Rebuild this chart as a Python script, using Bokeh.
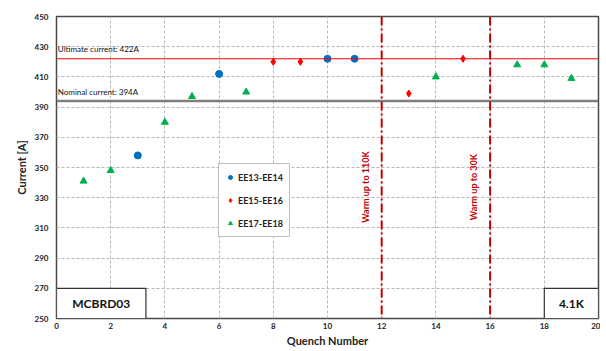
from bokeh.plotting import figure
from bokeh.models import Span, Label, Legend, LegendItem, FixedTicker
from bokeh.embed import file_html
from bokeh.resources import INLINE
from bokeh.core.properties import value
import math

# Data
ee13_x = [3, 6, 10, 11]
ee13_y = [358, 412, 422, 422]
ee15_x = [8, 9, 13, 15]
ee15_y = [420, 420, 399, 422]
ee17_x = [1, 2, 4, 5, 7, 14, 17, 18, 19]
ee17_y = [341, 348, 380, 397, 400, 410, 418, 418, 409]
ultimate = 422
nominal = 394
warmups = [12, 16]
warm_labels = ["Warm up to 110K", "Warm up to 30K"]
x_ticks = list(range(0, 21, 2))
y_ticks = list(range(250, 451, 20))

FONT = "Lato"

p = figure(width=600, height=349, x_range=(0, 20), y_range=(250, 450),
           output_backend="svg", toolbar_location=None,
           min_border_left=56, min_border_right=2, min_border_top=16, min_border_bottom=27)
p.outline_line_color = "#4a4a4a"
p.outline_line_width = 1.5

for ax in (p.xaxis[0], p.yaxis[0]):
    ax.major_tick_line_color = None
    ax.minor_tick_line_color = None
    ax.major_tick_out = 0
    ax.major_tick_in = 0
    ax.axis_line_color = None
    ax.major_label_text_font = FONT
    ax.major_label_text_font_style = "bold"
    ax.major_label_text_font_size = "8px"
    ax.major_label_text_color = "#222222"
    ax.axis_label_text_font = FONT
    ax.axis_label_text_font_style = "bold"
    ax.axis_label_text_font_size = "11px"
    ax.axis_label_text_color = "#222222"
p.xaxis.ticker = FixedTicker(ticks=x_ticks)
p.yaxis.ticker = FixedTicker(ticks=y_ticks)
p.xaxis.axis_label = "Quench Number"
p.yaxis.axis_label = "Current [A]"
p.xaxis.major_label_standoff = 4
p.xaxis.axis_label_standoff = 2
p.yaxis.major_label_standoff = 8
p.yaxis.axis_label_standoff = 4

for g in (p.xgrid[0], p.ygrid[0]):
    g.grid_line_color = "#b8b8b8"
    g.grid_line_dash = "3 2"
    g.grid_line_width = 1

# Reference lines
p.add_layout(Span(location=ultimate, dimension="width", line_color="#ff0000", line_width=1))
p.add_layout(Span(location=nominal, dimension="width", line_color="#7f7f7f", line_width=2.5))
for w in warmups:
    p.add_layout(Span(location=w, dimension="height", line_color="#c00000",
                      line_width=2, line_dash="9 3 2 3"))

p.add_layout(Label(x=0.05, y=ultimate + 3, text="Ultimate current: 422A", text_font=FONT,
                   text_font_size="8px", text_color="#111111", text_baseline="bottom"))
p.add_layout(Label(x=0.05, y=nominal + 3, text="Nominal current: 394A", text_font=FONT,
                   text_font_size="8px", text_color="#111111", text_baseline="bottom"))
for w, t in zip(warmups, warm_labels):
    p.add_layout(Label(x=w - 0.6, y=337, text=t, angle=math.pi / 2, text_font=FONT,
                       text_font_size="9px", text_font_style="bold", text_color="#c00000",
                       text_align="center", text_baseline="middle"))

# Boxes
p.quad(left=[0, 18], right=[3.3, 20], bottom=[250, 250], top=[270, 270],
       fill_color="white", line_color="#333333", line_width=1.2)
p.text(x=[1.65, 19], y=[260, 260], text=["MCBRD03", "4.1K"], text_font=value(FONT),
       text_font_style="bold", text_font_size="12px", text_align="center",
       text_baseline="middle", text_color="#111111")

r1 = p.scatter(ee13_x, ee13_y, marker="circle", size=7, fill_color="#0070c0", line_color="#0070c0")
r2 = p.scatter(ee15_x, ee15_y, marker="diamond", size=7, fill_color="#ff0000", line_color="#ff0000")
r3 = p.scatter(ee17_x, ee17_y, marker="triangle", size=7, fill_color="#00b050", line_color="#00b050")

legend = Legend(items=[LegendItem(label="EE13-EE14", renderers=[r1]),
                       LegendItem(label="EE15-EE16", renderers=[r2]),
                       LegendItem(label="EE17-EE18", renderers=[r3])],
                location=(162, 81))
legend.label_text_font = FONT
legend.label_text_font_style = "bold"
legend.label_text_font_size = "9px"
legend.label_text_color = "#222222"
legend.glyph_width = 10
legend.glyph_height = 14
legend.label_height = 14
legend.label_standoff = 3
legend.spacing = 9
legend.padding = 6
legend.margin = 0
legend.border_line_color = "#808080"
legend.border_line_width = 1.5
legend.background_fill_alpha = 1
p.add_layout(legend)

open("out.html", "w").write(file_html(p, INLINE))
